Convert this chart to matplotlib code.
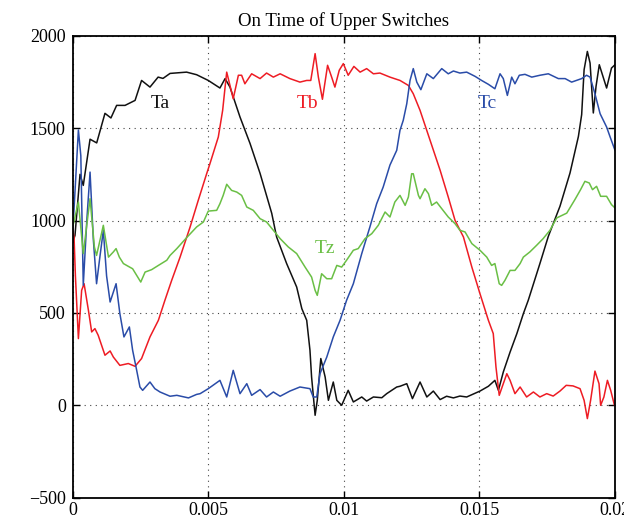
import numpy as np
import matplotlib
matplotlib.use('Agg')
import matplotlib.pyplot as plt

# time in ms, on-time values
ta_t = [0.0, 0.085, 0.27, 0.39, 0.64, 0.885, 1.19, 1.41, 1.62, 1.93, 2.30, 2.54, 2.85, 3.15, 3.33,
        3.59, 4.20, 4.57, 5.0, 5.43, 5.62, 5.80, 6.17, 6.54, 6.91, 7.34, 7.52, 7.89, 8.26, 8.45,
        8.63, 8.75, 8.81, 8.94, 9.02, 9.15, 9.31, 9.43, 9.61, 9.74, 9.92, 10.16, 10.35, 10.66,
        10.84, 11.09, 11.40, 11.58, 11.95, 12.07, 12.32, 12.53, 12.81, 13.06, 13.30, 13.55, 13.79,
        14.04, 14.28, 14.53, 15.02, 15.33, 15.57, 15.70, 15.88, 16.13, 16.38, 16.62, 16.80, 17.23,
        17.54, 17.97, 18.34, 18.65, 18.77, 18.86, 18.98, 19.08, 19.20, 19.30, 19.42, 19.69, 19.87,
        20.0]
ta_v = [880, 920, 1250, 1190, 1440, 1420, 1580, 1555, 1623, 1623, 1650, 1758, 1722, 1776, 1769,
        1796, 1803, 1789, 1758, 1717, 1768, 1722, 1560, 1417, 1255, 1039, 911, 767, 640, 523,
        460, 298, 153, -54, 27, 253, 153, 27, 126, 27, 0, 81, 18, 45,
        23, 45, 41, 63, 99, 103, 117, 36, 126, 45, 77, 31, 49,
        40, 50, 45, 77, 103, 135, 81, 180, 288, 388, 496, 568, 767,
        914, 1077, 1257, 1455, 1573, 1816, 1915, 1852, 1582, 1726, 1843, 1717, 1825,
        1843]

tb_t = [0.0, 0.05, 0.10, 0.21, 0.33, 0.42, 0.58, 0.70, 0.82, 0.94, 1.19, 1.38, 1.50, 1.74, 2.05,
        2.30, 2.54, 2.85, 3.16, 3.40, 3.65, 3.96, 4.33, 4.63, 4.94, 5.06, 5.37, 5.53, 5.62, 5.68,
        5.80, 5.92, 6.11, 6.23, 6.35, 6.60, 6.91, 7.15, 7.40, 7.65, 8.01, 8.38, 8.63, 8.78, 8.94,
        9.06, 9.21, 9.40, 9.55, 9.67, 9.83, 9.98, 10.16, 10.37, 10.60, 10.84, 11.09, 11.33, 11.70,
        12.07, 12.38, 12.56, 12.81, 13.18, 13.55, 13.85, 14.10, 14.41, 14.72, 15.02, 15.33, 15.51,
        15.61, 15.73, 15.88, 16.01, 16.13, 16.31, 16.50, 16.74, 16.99, 17.23, 17.48, 17.72, 17.97,
        18.20, 18.45, 18.71, 18.86, 18.98, 19.10, 19.26, 19.41, 19.47, 19.59, 19.72, 19.84, 19.98,
        20.0]
tb_v = [950, 910, 700, 361, 622, 658, 514, 397, 415, 379, 271, 294, 261, 216, 226,
        211, 253, 370, 460, 568, 676, 802, 965, 1109, 1253, 1307, 1452, 1596, 1722, 1803,
        1731, 1659, 1786, 1786, 1740, 1794, 1768, 1798, 1776, 1794, 1768, 1749, 1758, 1758, 1903,
        1776, 1656, 1840, 1776, 1722, 1813, 1849, 1786, 1834, 1803, 1822, 1794, 1798, 1776,
        1758, 1731, 1686, 1596, 1434, 1272, 1127, 1001, 911, 748, 604, 460, 388,
        207, 54, 117, 171, 135, 63, 99, 45, 72, 45, 63, 50, 77,
        108, 105, 90, 27, -72, 27, 185, 117, 0, 45, 135, 81, 0,
        0]

tc_t = [0.0, 0.05, 0.21, 0.30, 0.39, 0.52, 0.64, 0.76, 0.88, 1.0, 1.13, 1.25, 1.38, 1.60, 1.74,
        1.89, 2.09, 2.21, 2.36, 2.48, 2.58, 2.85, 3.03, 3.22, 3.59, 3.84, 4.27, 4.57, 4.70, 5.0,
        5.43, 5.68, 5.92, 6.17, 6.42, 6.60, 6.91, 7.15, 7.40, 7.65, 8.01, 8.38, 8.75, 8.87, 9.0,
        9.12, 9.37, 9.61, 9.86, 10.10, 10.35, 10.66, 10.96, 11.21, 11.45, 11.70, 11.95, 12.07,
        12.19, 12.32, 12.44, 12.56, 12.69, 12.84, 13.06, 13.30, 13.61, 13.85, 14.04, 14.28, 14.53,
        14.84, 15.08, 15.33, 15.57, 15.76, 15.88, 16.03, 16.19, 16.31, 16.47, 16.68, 16.93, 17.23,
        17.54, 17.91, 18.16, 18.40, 18.77, 18.95, 19.08, 19.26, 19.45, 19.69, 19.82, 20.0]
tc_v = [950, 1064, 1490, 1350, 650, 1000, 1262, 900, 658, 800, 947, 700, 559, 658, 496,
        370, 424, 298, 189, 99, 81, 126, 90, 72, 49, 54, 40, 59, 63, 90,
        135, 45, 189, 63, 117, 54, 85, 45, 72, 49, 77, 99, 90, 45, 45,
        171, 261, 370, 460, 568, 658, 821, 965, 1091, 1181, 1300, 1380, 1488,
        1542, 1632, 1758, 1822, 1749, 1708, 1794, 1768, 1822, 1794, 1809, 1798, 1803,
        1780, 1758, 1737, 1713, 1794, 1768, 1677, 1776, 1740, 1786, 1791, 1776, 1786,
        1794, 1768, 1768, 1749, 1768, 1786, 1776, 1686, 1578, 1506, 1452, 1380]

tz_t = [0.0, 0.21, 0.39, 0.64, 0.80, 0.88, 1.13, 1.32, 1.50, 1.60, 1.72, 1.87, 2.05, 2.21, 2.51,
        2.67, 2.91, 3.16, 3.47, 3.59, 3.84, 4.20, 4.57, 4.82, 5.0, 5.31, 5.43, 5.55, 5.68, 5.86,
        6.05, 6.23, 6.42, 6.66, 6.91, 7.15, 7.40, 7.65, 7.95, 8.26, 8.57, 8.81, 8.94, 9.02, 9.18,
        9.37, 9.55, 9.74, 9.92, 10.10, 10.35, 10.53, 10.78, 11.03, 11.27, 11.52, 11.70, 11.88,
        12.07, 12.26, 12.38, 12.50, 12.56, 12.75, 12.81, 12.99, 13.12, 13.24, 13.42, 13.61, 13.85,
        14.10, 14.28, 14.47, 14.72, 15.02, 15.27, 15.45, 15.57, 15.73, 15.82, 15.94, 16.13, 16.31,
        16.50, 16.62, 16.86, 17.11, 17.35, 17.60, 17.85, 18.22, 18.52, 18.73, 18.89, 19.05, 19.17,
        19.32, 19.47, 19.69, 19.87, 20.0]
tz_v = [965, 1100, 821, 1118, 857, 811, 974, 802, 830, 848, 802, 767, 752, 739, 667,
        721, 734, 757, 785, 811, 848, 907, 965, 992, 1051, 1055, 1091, 1136, 1196, 1163,
        1154, 1136, 1073, 1055, 1010, 992, 947, 902, 857, 821, 748, 694, 622, 595, 712,
        685, 685, 757, 748, 785, 839, 848, 902, 929, 974, 1046, 1019, 1100,
        1136, 1082, 1127, 1253, 1253, 1136, 1118, 1172, 1145, 1082, 1100, 1064, 1019,
        983, 947, 938, 875, 839, 802, 757, 767, 658, 649, 676, 730, 730,
        767, 802, 830, 866, 902, 947, 1014, 1040, 1113, 1167, 1212, 1203, 1167,
        1185, 1131, 1131, 1086, 1068]

series = [
    ('Ta', ta_t, ta_v, '#111111', (3.22, 1634)),
    ('Tb', tb_t, tb_v, '#ee1c24', (8.65, 1634)),
    ('Tc', tc_t, tc_v, '#2a4ca8', (15.28, 1634)),
    ('Tz', tz_t, tz_v, '#6abf45', (9.31, 850)),
]

xticks = [0, 0.005, 0.01, 0.015, 0.02]
xticklabels = ['0', '0.005', '0.01', '0.015', '0.02']
yticks = [-500, 0, 500, 1000, 1500, 2000]

plt.rcParams['font.family'] = ['Liberation Serif', 'DejaVu Serif']

fig = plt.figure(figsize=(6.24, 5.2), dpi=100)
ax = fig.add_axes([0.1165, 0.0429, 0.8691, 0.8884])

for name, t, v, color, (lx, ly) in series:
    ax.plot(np.array(t) / 1000, v, color=color, linewidth=1.1)
    ax.text(lx / 1000, ly, name, color=color, fontsize=14, ha='center', va='center')

ax.set_xlim(0, 0.02)
ax.set_ylim(-500, 2000)
ax.set_xticks(xticks)
ax.set_xticklabels(xticklabels)
ax.set_yticks(yticks)
ax.grid(True, linestyle=(0, (1, 4)), color='#444444', linewidth=0.8)
ax.tick_params(direction='in', top=True, right=True, labelsize=13, length=5, width=1, pad=5)
ax.tick_params(axis='x', pad=3)
for sp in ax.spines.values():
    sp.set_linewidth(1.3)
ax.set_title('On Time of Upper Switches', fontsize=13.5, pad=7)

fig.savefig('out.png', dpi=100)
